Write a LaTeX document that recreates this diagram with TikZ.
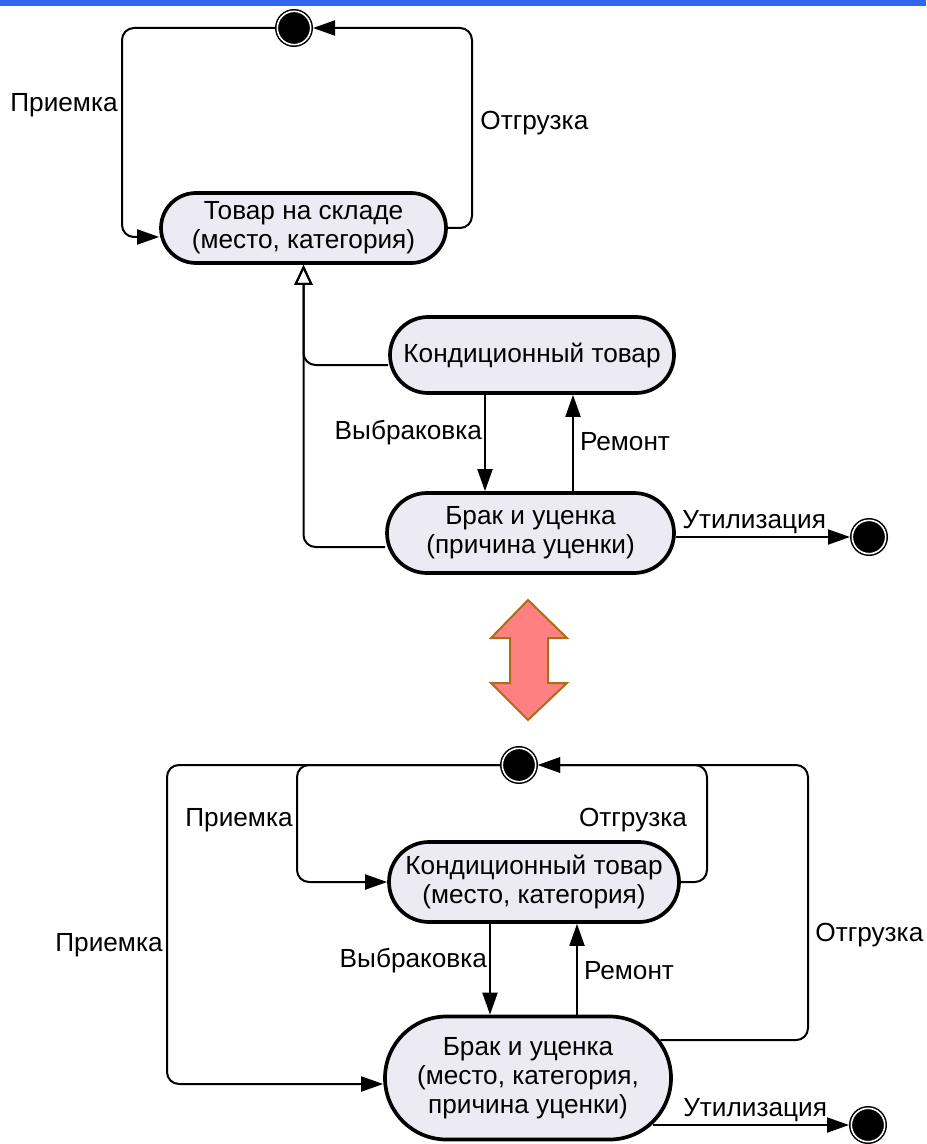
\documentclass[tikz,border=0pt]{standalone}
\usepackage{fontspec}
\setmainfont{Liberation Sans}
\usepackage{xcolor}
\usepackage{tikz}
\usetikzlibrary{arrows.meta,shapes.misc,calc}

\definecolor{boxfill}{RGB}{236,234,243}
\definecolor{barblue}{RGB}{51,102,238}
\definecolor{swapfill}{RGB}{255,128,128}
\definecolor{swapedge}{RGB}{170,110,20}

\begin{document}
\begin{tikzpicture}[
    x=0.5pt, y=-0.5pt,
    >={Triangle[length=11pt,width=7.5pt]},
    statebox/.style={draw, rounded rectangle, line width=1.85pt, fill=boxfill, align=center, inner sep=2pt, font=\fontsize{13.1}{14.4}\selectfont},
    pseudo/.style={circle, fill=black, draw=black, double=white, double distance=0.8pt, line width=0.75pt, minimum size=16.7pt, inner sep=0pt, outer sep=1.15pt},
    trans/.style={->, line width=1pt, rounded corners=6pt},
    gen/.style={-{Triangle[open,length=10pt,width=9pt]}, line width=1pt, rounded corners=6pt},
    lbl/.style={font=\fontsize{13.1}{14.4}\selectfont, inner sep=1pt}
]
\useasboundingbox (0,0) rectangle (926,1144);
\fill[barblue] (0,0) rectangle (926,6);

% Upper diagram: one state with subtypes
\node[pseudo] (init) at (294,28) {};
\node[statebox, minimum width=146.5pt, minimum height=35pt] (stock) at (303.5,228) {Товар на складе\\(место, категория)};
\node[statebox, minimum width=146pt, minimum height=38pt] (good) at (532,355) {Кондиционный товар};
\node[statebox, minimum width=147.5pt, minimum height=40pt] (defect) at (530.5,533) {Брак и уценка\\(причина уценки)};
\node[pseudo] (final) at (869,537) {};

\coordinate (lt) at (122,28);
\coordinate (rt) at (472,28);
\draw[trans] (init.west) -- (lt) |- ([yshift=-4.5pt]stock.west);
\draw[trans] (stock.east) -| (rt) -- (init.east);
\node[lbl, anchor=east] (recv1) at (120,105) {Приемка};
\node[lbl, anchor=west] (ship1) at (478,123) {Отгрузка};

\draw[gen] ([yshift=-5pt]good.west) -| (stock.south);
\draw[gen] ([yshift=-7pt]defect.west) -| (stock.south);

\draw[trans] (good.south -| 485,0) -- (defect.north -| 485,0) node[lbl, pos=0.39, left] {Выбраковка};
\draw[trans] (defect.north -| 573,0) -- (good.south -| 573,0) node[lbl, pos=0.51, right, inner sep=3pt] {Ремонт};
\draw[trans] (defect.east |- final) -- (final) node[lbl, pos=0.45, above] {Утилизация};

% Two-way arrow between the variants
\draw[fill=swapfill, draw=swapedge, line width=1pt] (528,600) -- (567,638) -- (548,638) -- (548,683) -- (567,683) -- (528,720) -- (491,683) -- (510,683) -- (510,638) -- (491,638) -- cycle;

% Lower diagram: two separate states
\node[pseudo] (init2) at (519,765) {};
\node[statebox, minimum width=149pt, minimum height=40pt] (good2) at (534,882) {Кондиционный товар\\(место, категория)};
\node[statebox, minimum width=147pt, minimum height=61.5pt] (defect2) at (528,1078) {Брак и уценка\\(место, категория,\\причина уценки)};
\node[pseudo] (final2) at (868,1125) {};

\coordinate (lo) at (167,765);
\coordinate (li) at (297,765);
\coordinate (ri) at (707,765);
\coordinate (ro) at (808,765);
\draw[trans] (init2.west) -- (li) |- (good2.west);
\draw[trans] (init2.west) -- (lo) |- ([yshift=-3pt]defect2.west);
\draw[trans] (good2.east) -| (ri) -- (init2.east);
\draw[trans] (defect2.16) -| (ro) -- (init2.east);
\node[lbl, anchor=east] (recv2) at (295,820) {Приемка};
\node[lbl, anchor=east] (recv3) at (165,945) {Приемка};
\node[lbl] (ship2) at (633,820) {Отгрузка};
\node[lbl, anchor=west] (ship3) at (813,935) {Отгрузка};

\draw[trans] (good2.south -| 490,0) -- (defect2.north -| 490,0) node[lbl, pos=0.4, left] {Выбраковка};
\draw[trans] (defect2.north -| 577,0) -- (good2.south -| 577,0) node[lbl, pos=0.49, right, inner sep=3pt] {Ремонт};
\draw[trans] (defect2.-20 |- final2) -- (final2) node[lbl, pos=0.52, above] {Утилизация};

\end{tikzpicture}
\end{document}
